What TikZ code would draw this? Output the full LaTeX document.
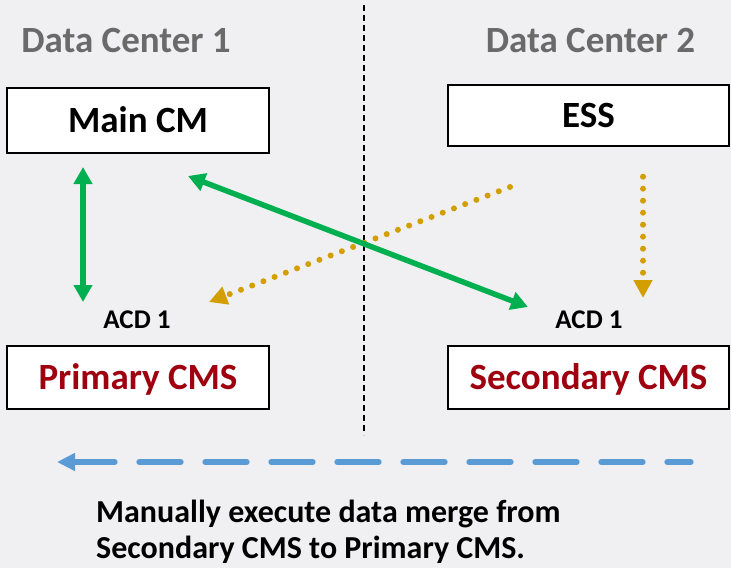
\documentclass[tikz,border=0pt]{standalone}
\usepackage{fontspec}
\setmainfont{Carlito}
\usetikzlibrary{arrows.meta}
\definecolor{bg}{HTML}{F0F0F2}
\definecolor{hdrgray}{HTML}{6A6A6A}
\definecolor{cmsred}{HTML}{9E0010}
\definecolor{arrgreen}{HTML}{00B050}
\definecolor{arrgold}{HTML}{D29E00}
\definecolor{arrblue}{HTML}{5B9BD5}
\tikzset{
  box/.style={draw=black, line width=1.4pt, fill=white, inner sep=0pt,
    font=\fontsize{37}{41}\selectfont\bfseries, text height=24pt, text depth=0pt},
  header/.style={inner sep=0pt, text=hdrgray, font=\fontsize{37}{41}\selectfont\bfseries,
    text height=24pt, text depth=0pt},
  acd/.style={inner sep=0pt, font=\fontsize{27}{30}\selectfont\bfseries,
    text height=17pt, text depth=0pt},
  greenarrow/.style={draw=arrgreen, line width=5.5pt,
    {Triangle[length=17pt,width=18pt]}-{Triangle[length=17pt,width=18pt]}},
  goldarrow/.style={draw=arrgold, line width=6pt, line cap=round,
    dash pattern=on 0pt off 12pt, -{Triangle[length=18pt,width=18pt]}},
  bluearrow/.style={draw=arrblue, line width=5.3pt, line cap=round,
    dash pattern=on 42pt off 24pt, dash phase=18pt, -{Triangle[length=18pt,width=17pt]}},
  divider/.style={draw=black, line width=1.3pt, dash pattern=on 6pt off 4pt}
}
\begin{document}
\begin{tikzpicture}[x=1pt,y=-1pt]
\fill[bg] (0,0) rectangle (731,568);
\useasboundingbox (0,0) rectangle (731,568);

% divider
\coordinate (divtop) at (364,5);
\coordinate (divbot) at (364,435);
\draw[divider] (divtop) -- (divbot);

% headers
\node[header] (dc1) at (126,40) {Data Center 1};
\node[header] (dc2) at (590.5,40) {Data Center 2};

% boxes
\node[box, minimum width=262pt, minimum height=65pt] (maincm) at (138,120.5) {Main CM};
\node[box, minimum width=281pt, minimum height=61pt] (ess) at (588.5,115.5) {ESS};
\node[box, minimum width=262pt, minimum height=63pt, text=cmsred] (primary) at (138,377.5) {Primary CMS};
\node[box, minimum width=281pt, minimum height=63pt, text=cmsred] (secondary) at (588.5,377.5) {Secondary CMS};

% labels
\node[acd] (acd1) at (137,319.5) {ACD 1};
\node[acd] (acd2) at (589,319.5) {ACD 1};

% connector end points
\coordinate (gvtop) at (83,167);
\coordinate (gvbot) at (83,302);
\coordinate (gdtop) at (188,176);
\coordinate (gdbot) at (528,307);
\coordinate (odstart) at (510,187);
\coordinate (odend) at (209,302);
\coordinate (ovstart) at (643,176.7);
\coordinate (ovend) at (643,298);
\coordinate (bstart) at (691,462);
\coordinate (bend) at (57,462);

\draw[goldarrow] (odstart) -- (odend);
\draw[goldarrow] (ovstart) -- (ovend);
\draw[greenarrow] (gvtop) -- (gvbot);
\draw[greenarrow] (gdtop) -- (gdbot);
\draw[bluearrow] (bstart) -- (bend);

% note
\node[inner sep=0pt, anchor=base west, align=left,
  font=\fontsize{32}{36}\selectfont\bfseries] (note) at (96,558)
  {Manually execute data merge from\\Secondary CMS to Primary CMS.};
\end{tikzpicture}
\end{document}
